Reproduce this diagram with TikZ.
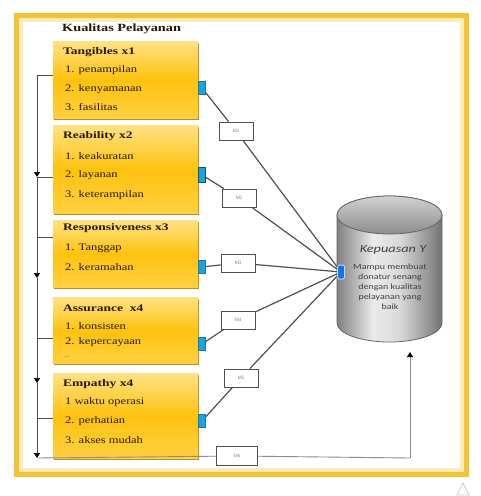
\documentclass[tikz,border=0pt]{standalone}
\usepackage{fontspec}
\usepackage{graphicx}
\setmainfont{Liberation Serif}
\newfontfamily\calfont{Carlito}
\usetikzlibrary{arrows.meta,shadows}
\definecolor{framegold}{HTML}{F3C235}
\definecolor{framepale}{HTML}{FCEDB8}
\definecolor{boxtop}{HTML}{FFE285}
\definecolor{boxmid}{HTML}{FEC20F}
\definecolor{boxbot}{HTML}{FFD040}
\definecolor{boxshade}{HTML}{B08410}
\definecolor{sqblue}{HTML}{1EA2DA}
\definecolor{sqedge}{HTML}{1779A8}
\definecolor{linkgray}{HTML}{505050}
\definecolor{txtcol}{HTML}{241800}
\newcommand{\hsc}[2]{\scalebox{#1}[1]{#2}}
\pgfdeclarehorizontalshading{cylbody}{100bp}{color(0bp)=(black!50); color(25bp)=(black!50); color(42bp)=(black!8); color(55bp)=(black!15); color(75bp)=(black!55); color(100bp)=(black!55)}
\tikzset{
  kbox/.style={rectangle, anchor=north west, minimum width=145pt, inner sep=0pt,
    top color=boxtop, bottom color=boxbot, middle color=boxmid,
    drop shadow={shadow xshift=0.6pt, shadow yshift=-1.8pt, fill=boxshade, opacity=0.9}},
  btxt/.style={anchor=west, inner sep=0pt, text=txtcol, font=\fontsize{10}{12}\selectfont},
  sq/.style={rectangle, fill=sqblue, draw=sqedge, line width=0.4pt, minimum width=7pt, minimum height=13pt, inner sep=0pt},
  hubst/.style={rectangle, rounded corners=1.5pt, fill=sqblue!70!blue, draw=sqblue!35, line width=1pt, minimum width=7pt, minimum height=14pt, inner sep=0pt},
  mlab/.style={rectangle, draw=linkgray, line width=0.9pt, fill=white, minimum width=34pt, minimum height=18pt, inner sep=0pt, font=\fontsize{5}{6}\selectfont, text=gray},
  link/.style={draw=linkgray, line width=1.2pt},
  leftln/.style={draw=black!70, line width=0.7pt},
  botln/.style={draw=black!45, line width=0.9pt},
  tip/.style={-{Triangle[length=5pt,width=6pt,color=black]}},
}
\begin{document}
\begin{tikzpicture}[x=1pt,y=-1pt]
\useasboundingbox (0,0) rectangle (480,496);
\fill[white] (0,0) rectangle (480,496);
% frame
\draw[framegold, line width=5pt] (16.5,15.5) rectangle (466.5,474.5);
\draw[framepale, line width=3.5pt] (21,20) rectangle (462,470);
\draw[black!20, line width=0.8pt] (463,483) -- (457,495) -- (469,495) -- cycle;

% cylinder
\shade[shading=cylbody, draw=black!60, line width=0.8pt]
  (337,215) -- (337,323) arc (180:0:52.5 and 19) -- (442,215) arc (0:-180:52.5 and 19) -- cycle;
\shade[top color=black!18, bottom color=black!45, draw=black!60, line width=0.8pt] (389.5,215) ellipse (52.5 and 19);
\node[inner sep=0pt, text=black!75, font=\calfont\itshape\fontsize{11}{12}\selectfont] (kep) at (393,250) {\hsc{1.3}{Kepuasan Y}};
\node[inner sep=0pt, text=black!75, align=center, anchor=north, font=\calfont\fontsize{8}{10}\selectfont] (kdesc) at (390,264) {\hsc{1.25}{Mampu membuat}\\\hsc{1.25}{donatur senang}\\\hsc{1.25}{dengan kualitas}\\\hsc{1.25}{pelayanan yang}\\\hsc{1.25}{baik}};
\coordinate (cylbot) at (410,352);
\coordinate (cylcorner) at (410,458);

% title
\node[btxt, font=\bfseries\fontsize{11}{12}\selectfont] (title) at (62,29) {\hsc{1.3}{Kualitas Pelayanan}};

% boxes
\node[kbox, minimum height=77pt] (b1) at (53,41) {};
\node[kbox, minimum height=88pt] (b2) at (53,125) {};
\node[kbox, minimum height=67pt] (b3) at (53,220) {};
\node[kbox, minimum height=66pt] (b4) at (53,297) {};
\node[kbox, minimum height=85pt] (b5) at (53,373) {};

\node[btxt] (t10) at (63,52) {\hsc{1.35}{\textbf{Tangibles x1}}};
\node[btxt] (t11) at (65,70) {\hsc{1.25}{1. penampilan}};
\node[btxt] (t12) at (65,89) {\hsc{1.25}{2. kenyamanan}};
\node[btxt] (t13) at (65,107) {\hsc{1.25}{3. fasilitas}};

\node[btxt] (t20) at (63,136) {\hsc{1.35}{\textbf{Reability x2}}};
\node[btxt] (t21) at (65,156) {\hsc{1.25}{1. keakuratan}};
\node[btxt] (t22) at (65,175) {\hsc{1.25}{2. layanan}};
\node[btxt] (t23) at (65,195) {\hsc{1.25}{3. keterampilan}};

\node[btxt] (t30) at (63,228) {\hsc{1.35}{\textbf{Responsiveness x3}}};
\node[btxt] (t31) at (65,248) {\hsc{1.25}{1. Tanggap}};
\node[btxt] (t32) at (65,267) {\hsc{1.25}{2. keramahan}};

\node[btxt] (t40) at (63,308) {\hsc{1.35}{\textbf{Assurance\ \ x4}}};
\node[btxt] (t41) at (65,326) {\hsc{1.25}{1. konsisten}};
\node[btxt] (t42) at (65,342) {\hsc{1.25}{2. kepercayaan}};
\node[btxt, font=\fontsize{5}{6}\selectfont] (t43) at (65,357) {...};

\node[btxt] (t50) at (63,384) {\hsc{1.35}{\textbf{Empathy x4}}};
\node[btxt] (t51) at (65,402) {\hsc{1.25}{1 waktu operasi}};
\node[btxt] (t52) at (65,421) {\hsc{1.25}{2. perhatian}};
\node[btxt] (t53) at (65,440) {\hsc{1.25}{3. akses mudah}};

% blue squares
\node[sq] (s1) at (202,88) {};
\node[sq, minimum height=15pt, draw=sqedge!70!black] (s2) at (202,175) {};
\node[sq] (s3) at (202,267) {};
\node[sq] (s4) at (202,344) {};
\node[sq] (s5) at (202,421) {};
\node[hubst] (hub) at (341,272) {};

% labels
\node[mlab] (m1) at (236,131) {M1};
\node[mlab] (m2) at (239,198) {M2};
\node[mlab] (m3) at (238,263) {M3};
\node[mlab] (m4) at (238,320) {M4};
\node[mlab] (m5) at (241,378) {M5};
\node[mlab, minimum width=41pt, minimum height=19pt] (m6) at (237,456) {M6};

% links to hub
\draw[link] (s1) -- (m1);
\draw[link] (m1) -- (hub);
\draw[link] (s2) -- (m2);
\draw[link] (m2) -- (hub);
\draw[link] (s3) -- (m3);
\draw[link] (m3) -- (hub);
\draw[link] (s4) -- (m4);
\draw[link] (m4) -- (hub);
\draw[link] (s5) -- (m5);
\draw[link] (m5) -- (hub);

% left structure
\coordinate (v0) at (37,75);
\coordinate (v1) at (37,177);
\coordinate (v2) at (37,237);
\coordinate (v3) at (37,278);
\coordinate (v4) at (37,338);
\coordinate (v5) at (37,383);
\coordinate (v6) at (37,418);
\coordinate (v7) at (37,458);
\draw[leftln] (v0 -| b1.west) -- (v0);
\draw[leftln,tip] (v0) -- (v1);
\draw[leftln,tip] (v1) -- (v3);
\draw[leftln,tip] (v3) -- (v5);
\draw[leftln,tip] (v5) -- (v7);
\draw[leftln] (v1) -- (v1 -| b2.west);
\draw[leftln] (v2) -- (v2 -| b3.west);
\draw[leftln] (v4) -- (v4 -| b4.west);
\draw[leftln] (v6) -- (v6 -| b5.west);
\draw[botln] (v7) -- (m6);
\draw[botln] (m6) -- (cylcorner);
\draw[botln,tip] (cylcorner) -- (cylbot);
\end{tikzpicture}
\end{document}
